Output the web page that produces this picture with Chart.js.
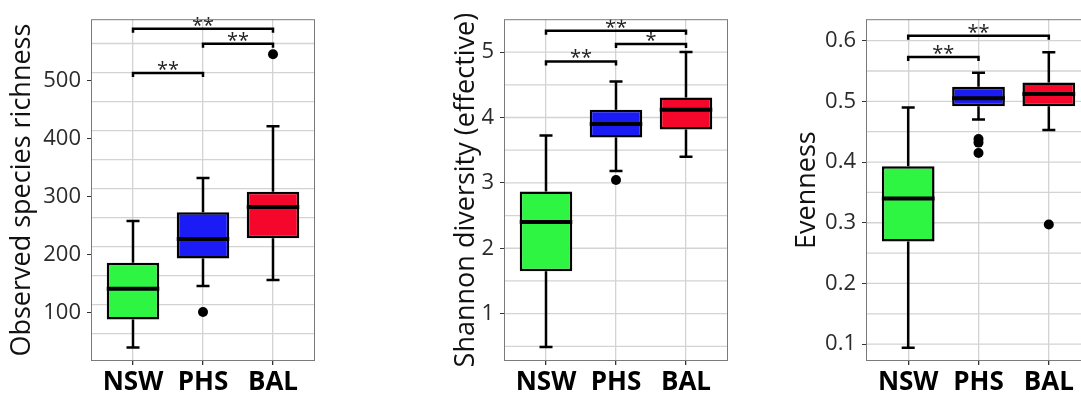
<!DOCTYPE html>
<html>
<head>
<meta charset="utf-8">
<script src="https://cdn.jsdelivr.net/npm/chart.js@4.4.1/dist/chart.umd.min.js"></script>
<style>
  html, body { margin: 0; padding: 0; background: #fff; overflow: hidden; }
  body { width: 1081px; height: 396px; position: relative; }
  .panel { position: absolute; top: 0; height: 396px; }
</style>
</head>
<body>
<div class="panel" style="left:0px;width:330px"><canvas id="riqueza"></canvas></div>
<div class="panel" style="left:430px;width:308px"><canvas id="shannon"></canvas></div>
<div class="panel" style="left:770px;width:326px"><canvas id="equidad"></canvas></div>
<script>
const grupos = ["NSW", "PHS", "BAL"];

// riqueza observada
const riqMin = [40, 146, 156];
const riqQ1 = [88, 193, 228];
const riqMed = [141, 227, 282];
const riqQ3 = [186, 273, 308];
const riqMax = [258, 332, 421];
const riqOut = [[], [101], [545]];
const riqTicks = [100, 200, 300, 400, 500];
const riqSig = [[1, 2, 513, "**"], [2, 3, 563, "**"], [1, 3, 589, "**"]];

// diversidad de Shannon (efectiva)
const shaMin = [0.49, 3.18, 3.40];
const shaQ1 = [1.65, 3.695, 3.816];
const shaMed = [2.40, 3.90, 4.12];
const shaQ3 = [2.87, 4.12, 4.305];
const shaMax = [3.725, 4.55, 5.0];
const shaOut = [[], [3.045], []];
const shaTicks = [1, 2, 3, 4, 5];
const shaSig = [[1, 2, 4.858, "**"], [2, 3, 5.125, "*"], [1, 3, 5.326, "**"]];

// equidad
const eqMin = [0.094, 0.470, 0.453];
const eqQ1 = [0.269, 0.492, 0.492];
const eqMed = [0.340, 0.505, 0.512];
const eqQ3 = [0.393, 0.524, 0.531];
const eqMax = [0.490, 0.547, 0.581];
const eqOut = [[], [0.438, 0.432, 0.415], [0.297]];
const eqTicks = [0.1, 0.2, 0.3, 0.4, 0.5, 0.6];
const eqSig = [[1, 2, 0.573, "**"], [1, 3, 0.608, "**"]];

const colores = ["#2ef542", "#1b1bf5", "#f5062b"];
const fuente = "'Open Sans', sans-serif";
const gris = "#d3d3d3";

// bigotes, medianas, rejilla, corchetes de significancia y marco
const cajas = {
  id: "cajas",
  beforeDatasetsDraw(chart, args, o) {
    const { ctx, chartArea: a, scales: { x, y } } = chart;
    ctx.save();
    ctx.strokeStyle = gris;
    ctx.lineWidth = 1.3;
    const paso = o.ticks[1] - o.ticks[0];
    for (let k = -2; k <= o.ticks.length * 2 + 2; k++) {
      const v = o.ticks[0] + k * paso / 2 + o.desfase;
      const py = y.getPixelForValue(v);
      if (py < a.top + 1 || py > a.bottom - 1) continue;
      ctx.beginPath();
      ctx.moveTo(a.left, py);
      ctx.lineTo(a.right, py);
      ctx.stroke();
    }
    ctx.strokeStyle = "#000";
    ctx.lineWidth = 2.5;
    o.min.forEach((v, i) => {
      const px = x.getPixelForValue(i + 1);
      const yMin = y.getPixelForValue(o.min[i]);
      const yMax = y.getPixelForValue(o.max[i]);
      ctx.beginPath();
      ctx.moveTo(px, yMin);
      ctx.lineTo(px, y.getPixelForValue(o.q1[i]));
      ctx.moveTo(px, y.getPixelForValue(o.q3[i]));
      ctx.lineTo(px, yMax);
      ctx.moveTo(px - 6.5, yMin);
      ctx.lineTo(px + 6.5, yMin);
      ctx.moveTo(px - 6.5, yMax);
      ctx.lineTo(px + 6.5, yMax);
      ctx.stroke();
    });
    ctx.restore();
  },
  afterDatasetsDraw(chart, args, o) {
    const { ctx, chartArea: a, scales: { x, y } } = chart;
    const barras = chart.getDatasetMeta(0).data;
    ctx.save();
    ctx.strokeStyle = "#000";
    ctx.lineWidth = 4;
    o.med.forEach((v, i) => {
      const b = barras[i];
      const py = y.getPixelForValue(v);
      ctx.beginPath();
      ctx.moveTo(b.x - b.width / 2, py);
      ctx.lineTo(b.x + b.width / 2, py);
      ctx.stroke();
    });
    ctx.lineWidth = 2.5;
    ctx.fillStyle = "#222";
    ctx.font = "20px " + fuente;
    ctx.textAlign = "center";
    ctx.textBaseline = "alphabetic";
    o.sig.forEach(([g1, g2, v, txt]) => {
      const x1 = x.getPixelForValue(g1);
      const x2 = x.getPixelForValue(g2);
      const py = y.getPixelForValue(v);
      ctx.beginPath();
      ctx.moveTo(x1, py + 4);
      ctx.lineTo(x1, py);
      ctx.lineTo(x2, py);
      ctx.lineTo(x2, py + 4);
      ctx.stroke();
      ctx.fillText(txt, (x1 + x2) / 2, py + 3);
    });
    ctx.strokeStyle = "#7a7a7a";
    ctx.lineWidth = 1;
    ctx.strokeRect(a.left + 0.5, a.top + 0.5, a.width - 1, a.height - 1);
    ctx.restore();
  }
};

function panel(id, d) {
  const puntos = [];
  d.out.forEach((lista, i) => lista.forEach(v => puntos.push({ x: i + 1, y: v })));
  new Chart(document.getElementById(id), {
    type: "bar",
    data: {
      datasets: [{
        data: grupos.map((g, i) => ({ x: i + 1, y: [d.q1[i], d.q3[i]] })),
        backgroundColor: colores,
        borderColor: "#000",
        borderWidth: 2.5,
        borderSkipped: false,
        barPercentage: 0.75,
        categoryPercentage: 1
      }, {
        type: "scatter",
        data: puntos,
        pointRadius: 5,
        pointBackgroundColor: "#000",
        pointBorderWidth: 0
      }]
    },
    options: {
      responsive: true,
      maintainAspectRatio: false,
      animation: false,
      layout: { padding: { top: 15, right: d.derecha } },
      plugins: {
        legend: { display: false },
        tooltip: { enabled: false },
        cajas: {
          min: d.min, q1: d.q1, med: d.med, q3: d.q3, max: d.max,
          ticks: d.ticks, sig: d.sig, desfase: d.desfase
        }
      },
      scales: {
        x: {
          type: "linear",
          min: 0.4,
          max: 3.6,
          offset: false,
          afterBuildTicks: s => { s.ticks = grupos.map((g, i) => ({ value: i + 1 })); },
          afterFit: s => { s.height = 35; },
          ticks: {
            callback: v => grupos[Math.round(v) - 1],
            font: { family: fuente, size: 26, weight: "bold" },
            color: "#000",
            padding: 2,
            maxRotation: 0,
            autoSkip: false
          },
          grid: { offset: false, color: gris, lineWidth: 1.3, tickColor: "#333", tickLength: 4 },
          border: { display: false }
        },
        y: {
          min: d.ymin,
          max: d.ymax,
          afterBuildTicks: s => { s.ticks = d.ticks.map(v => ({ value: v })); },
          afterFit: s => { s.width = d.ancho; },
          ticks: {
            callback: d.fmt,
            font: { family: fuente, size: 22 },
            color: "#2b2b2b",
            padding: 6
          },
          grid: { drawOnChartArea: false, tickColor: "#333", tickLength: 4 },
          border: { display: false },
          title: {
            display: true,
            text: d.titulo,
            font: { family: fuente, size: 27 },
            color: "#111",
            padding: { top: d.margen, bottom: 0 }
          }
        }
      }
    },
    plugins: [cajas]
  });
}

panel("riqueza", {
  min: riqMin, q1: riqQ1, med: riqMed, q3: riqQ3, max: riqMax, out: riqOut,
  ticks: riqTicks, sig: riqSig, ymin: 16.6, ymax: 605.5, desfase: 13.6,
  fmt: v => String(v), titulo: "Observed species richness",
  ancho: 91, margen: 6, derecha: 15
});
panel("shannon", {
  min: shaMin, q1: shaQ1, med: shaMed, q3: shaQ3, max: shaMax, out: shaOut,
  ticks: shaTicks, sig: shaSig, ymin: 0.276, ymax: 5.503, desfase: 0,
  fmt: v => String(v), titulo: "Shannon diversity (effective)",
  ancho: 74, margen: 19.8, derecha: 10
});
panel("equidad", {
  min: eqMin, q1: eqQ1, med: eqMed, q3: eqQ3, max: eqMax, out: eqOut,
  ticks: eqTicks, sig: eqSig, ymin: 0.0723, ymax: 0.6353, desfase: 0,
  fmt: v => v.toFixed(1), titulo: "Evenness",
  ancho: 96, margen: 20.8, derecha: 5
});
</script>
</body>
</html>
